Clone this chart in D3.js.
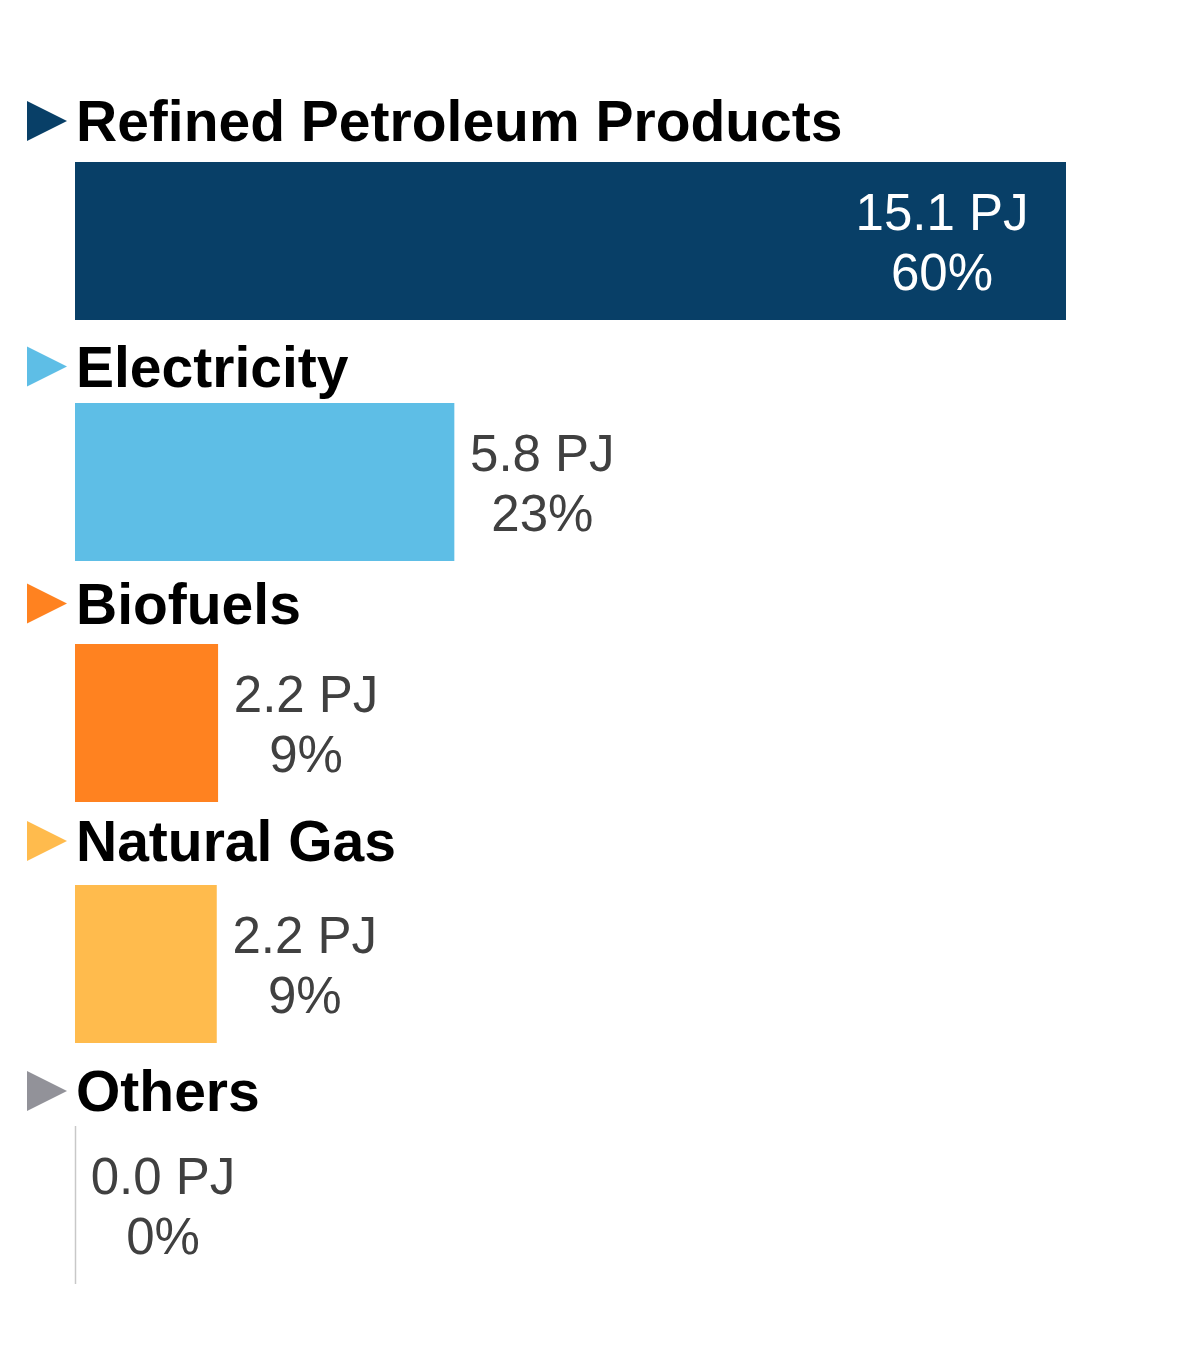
<!DOCTYPE html>
<html>
<head>
<meta charset="utf-8">
<script src="https://cdn.jsdelivr.net/npm/d3@7"></script>
<style>
  html, body { margin: 0; padding: 0; background: #ffffff; }
  svg { display: block; }
</style>
</head>
<body>
<svg id="chart" width="1200" height="1368"></svg>
<script>
// Final energy consumption by fuel type (PJ)
const categories = ["Refined Petroleum Products", "Electricity", "Biofuels", "Natural Gas", "Others"];
const valuesPJ   = [15.1, 5.78, 2.18, 2.16, 0.0];
const colors     = ["#083f67", "#5ebee6", "#ff8220", "#ffbb4d", "#929299"];

// Heading baseline position relative to the top of each bar
const headingOffset = [-21, -16.5, -20.5, -24, -15];

const total = d3.sum(valuesPJ);
const rows = categories.map((name, i) => ({
  name, value: valuesPJ[i], color: colors[i], share: valuesPJ[i] / total, hy: headingOffset[i]
}));

const svg = d3.select("#chart");

const x = d3.scaleLinear().domain([0, d3.max(valuesPJ)]).range([75, 1066]);
const y = d3.scaleBand().domain(categories).range([162, 162 + 241 * categories.length]).paddingInner(0).paddingOuter(0);
const barH = 158;

const fmtPJ = d3.format(".1f");
const fmtPct = d3.format(".0%");

const g = svg.selectAll("g.row").data(rows).join("g").attr("class", "row")
  .attr("transform", d => `translate(0,${y(d.name)})`);

// Category heading with a coloured pointer
g.append("path")
  .attr("d", d => `M27,${d.hy - 40} L67,${d.hy - 20} L27,${d.hy} Z`)
  .attr("fill", d => d.color);

g.append("text")
  .attr("x", 76).attr("y", d => d.hy)
  .attr("font-family", "'Liberation Sans', Arial, sans-serif")
  .attr("font-weight", "bold")
  .attr("font-size", 57)
  .attr("fill", "#000")
  .text(d => d.name);

// Bars (a zero value is shown as a hairline)
g.filter(d => d.value > 0).append("rect")
  .attr("x", x(0)).attr("y", 0)
  .attr("width", d => x(d.value) - x(0))
  .attr("height", barH)
  .attr("fill", d => d.color);

g.filter(d => d.value === 0).append("line")
  .attr("x1", x(0) + 0.5).attr("x2", x(0) + 0.5)
  .attr("y1", 0).attr("y2", barH)
  .attr("stroke", "#c8c8c8").attr("stroke-width", 1.5);

// Value and share labels
const inside = d => x(d.value) - x(0) > 400;
const lbl = g.append("text")
  .attr("font-family", "'Liberation Sans', Arial, sans-serif")
  .attr("font-size", 51)
  .attr("text-anchor", "middle")
  .attr("fill", d => inside(d) ? "#ffffff" : "#404040");

lbl.append("tspan")
  .attr("x", d => inside(d) ? x(d.value) - 124 : x(d.value) + 88)
  .attr("y", 68)
  .text(d => `${fmtPJ(d.value)} PJ`);

lbl.append("tspan")
  .attr("x", d => inside(d) ? x(d.value) - 124 : x(d.value) + 88)
  .attr("y", 128)
  .text(d => fmtPct(d.share));
</script>
</body>
</html>
